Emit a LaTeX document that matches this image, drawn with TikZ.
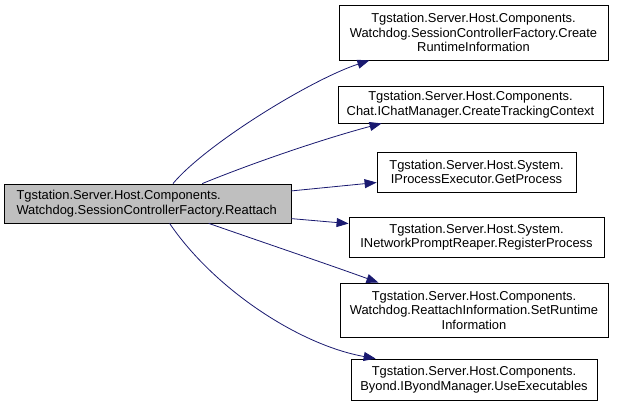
\documentclass[tikz,border=0pt]{standalone}
\usepackage{fontspec}
\setmainfont{Liberation Sans}
\usetikzlibrary{arrows.meta}
\definecolor{edgeblue}{HTML}{191970}
\definecolor{mainfill}{HTML}{BFBFBF}
\begin{document}
\begin{tikzpicture}[x=1pt,y=-1pt,
  box/.style={draw=black, line width=0.8pt, inner sep=0pt, fill=white,
    font=\fontsize{12.9}{14.5}\selectfont, align=center},
  link/.style={draw=edgeblue, line width=0.8pt,
    -{Triangle[length=12pt,width=9pt,fill=edgeblue]}}]
\useasboundingbox (0,0) rectangle (619,410);
\node[box, fill=mainfill, minimum width=287pt, minimum height=39pt, text width=262pt, align=left] (main) at (147.5,203.5)
  {Tgstation.Server.Host.Components.\\Watchdog.SessionControllerFactory.Reattach};
\node[box, minimum width=269pt, minimum height=55pt, text width=259pt] (n1) at (473.5,32.5)
  {Tgstation.Server.Host.Components.\\Watchdog.SessionControllerFactory.Create\\RuntimeInformation};
\node[box, minimum width=265pt, minimum height=37pt, text width=255pt] (n2) at (470.5,104.5)
  {Tgstation.Server.Host.Components.\\Chat.IChatManager.CreateTrackingContext};
\node[box, minimum width=199pt, minimum height=40pt, text width=189pt] (n3) at (476.5,172)
  {Tgstation.Server.Host.System.\\IProcessExecutor.GetProcess};
\node[box, minimum width=255pt, minimum height=40pt, text width=245pt] (n4) at (476.5,237)
  {Tgstation.Server.Host.System.\\INetworkPromptReaper.RegisterProcess};
\node[box, minimum width=268pt, minimum height=54pt, text width=258pt] (n5) at (474,310)
  {Tgstation.Server.Host.Components.\\Watchdog.ReattachInformation.SetRuntime\\Information};
\node[box, minimum width=246pt, minimum height=41pt, text width=236pt] (n6) at (474,379.5)
  {Tgstation.Server.Host.Components.\\Byond.IByondManager.UseExecutables};
\draw[link] (main.38) .. controls (205,145) and (310,80) .. (n1.195);
\draw[link] (main.20) .. controls (260,160) and (330,137) .. (n2.192);
\draw[link] (main.5) -- (n3.186);
\draw[link] (main.-6) -- (n4.174);
\draw[link] (main.-18) .. controls (265,243) and (330,265) .. (n5.164);
\draw[link] (main.-42) .. controls (215,290) and (300,345) .. (n6.168);
\end{tikzpicture}
\end{document}
